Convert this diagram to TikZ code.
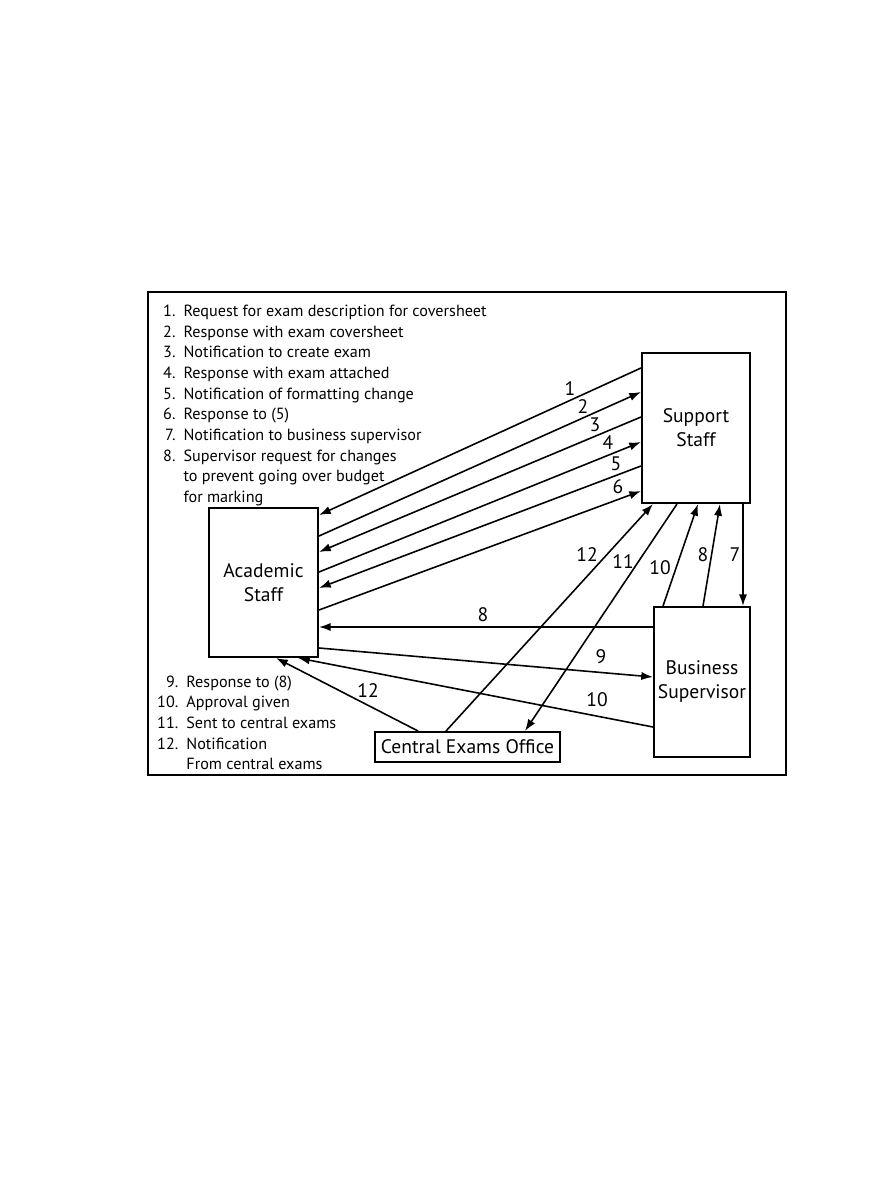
\documentclass[tikz,border=0pt]{standalone}
\usepackage{fontspec}
\setmainfont{PT Sans}
\usetikzlibrary{arrows.meta}

\begin{document}
\begin{tikzpicture}[x=0.03cm,y=-0.03cm,>={Latex[length=10pt,width=7pt]}]
\tikzset{
  box/.style={draw, line width=1.7pt, align=center, inner sep=0pt, font=\fontsize{16.7}{20.5}\selectfont},
  flow/.style={->, line width=1.35pt},
  lbl/.style={font=\fontsize{16.7}{18}\selectfont, inner sep=0pt},
  legend/.style={font=\fontsize{13.8}{17.6}\selectfont, inner sep=0pt, anchor=north west}
}
\useasboundingbox (0,0) rectangle (893,1188);
\draw[line width=2.2pt] (148,292) rectangle (786,775);

% the four parties
\node[box, minimum width=3.24cm, minimum height=4.5cm] (sup) at (696,428) {Support\\Staff};
\node[box, minimum width=3.27cm, minimum height=4.47cm] (acad) at (263.5,582.5) {Academic\\Staff};
\node[box, minimum width=2.88cm, minimum height=4.5cm] (bus) at (702,682) {Business\\Supervisor};
\node[box, minimum width=5.55cm, minimum height=0.9cm] (ceo) at (467.5,747) {Central Exams Office};

% legends
\node[legend] (legA) at (163,302) {\begin{tabular}{@{}r@{\hspace{0.5em}}l@{}}
1. & Request for exam description for coversheet\\
2. & Response with exam coversheet\\
3. & Notification to create exam\\
4. & Response with exam attached\\
5. & Notification of formatting change\\
6. & Response to (5)\\
7. & Notification to business supervisor\\
8. & Supervisor request for changes\\
   & to prevent going over budget\\
   & for marking
\end{tabular}};
\node[legend] (legB) at (157,672.5) {\begin{tabular}{@{}r@{\hspace{0.5em}}l@{}}
9. & Response to (8)\\
10. & Approval given\\
11. & Sent to central exams\\
12. & Notification\\
    & From central exams
\end{tabular}};

% support <-> academic
\draw[flow] (sup.west |- 0,368) -- (acad.east |- 0,515);
\draw[flow] (acad.east |- 0,536) -- (sup.west |- 0,392);
\draw[flow] (sup.west |- 0,417) -- (acad.east |- 0,552);
\draw[flow] (acad.east |- 0,572) -- (sup.west |- 0,442);
\draw[flow] (sup.west |- 0,466) -- (acad.east |- 0,588);
\draw[flow] (acad.east |- 0,610) -- (sup.west |- 0,491);
\node[lbl] at (570,389) {1};
\node[lbl] at (583,407) {2};
\node[lbl] at (595,425) {3};
\node[lbl] at (608,443) {4};
\node[lbl] at (616,464) {5};
\node[lbl] at (618,487) {6};

% business supervisor <-> academic
\draw[flow] (bus.west |- 0,627) -- (acad.east |- 0,627);
\draw[flow] (acad.east |- 0,648) -- (bus.west |- 0,677);
\draw[flow] (bus.west |- 0,727) -- (acad.south -| 298,0);
\node[lbl] at (483,615) {8};
\node[lbl] at (601,657) {9};
\node[lbl] at (597,700) {10};

% central exams office
\draw[flow] (ceo.north -| 418,0) -- (acad.south -| 276,0);
\draw[flow] (ceo.north -| 446,0) -- (sup.south -| 653,0);
\draw[flow] (sup.south -| 677,0) -- (ceo.north -| 525,0);
\node[lbl] at (368,691) {12};
\node[lbl] at (587,555) {12};
\node[lbl] at (623,562) {11};

% support <-> business supervisor
\draw[flow] (bus.north -| 663,0) -- (sup.south -| 698,0);
\draw[flow] (bus.north -| 703,0) -- (sup.south -| 720,0);
\draw[flow] (sup.south -| 743,0) -- (bus.north -| 743,0);
\node[lbl] at (660,568) {10};
\node[lbl] at (703,555) {8};
\node[lbl] at (735,555) {7};
\end{tikzpicture}
\end{document}
